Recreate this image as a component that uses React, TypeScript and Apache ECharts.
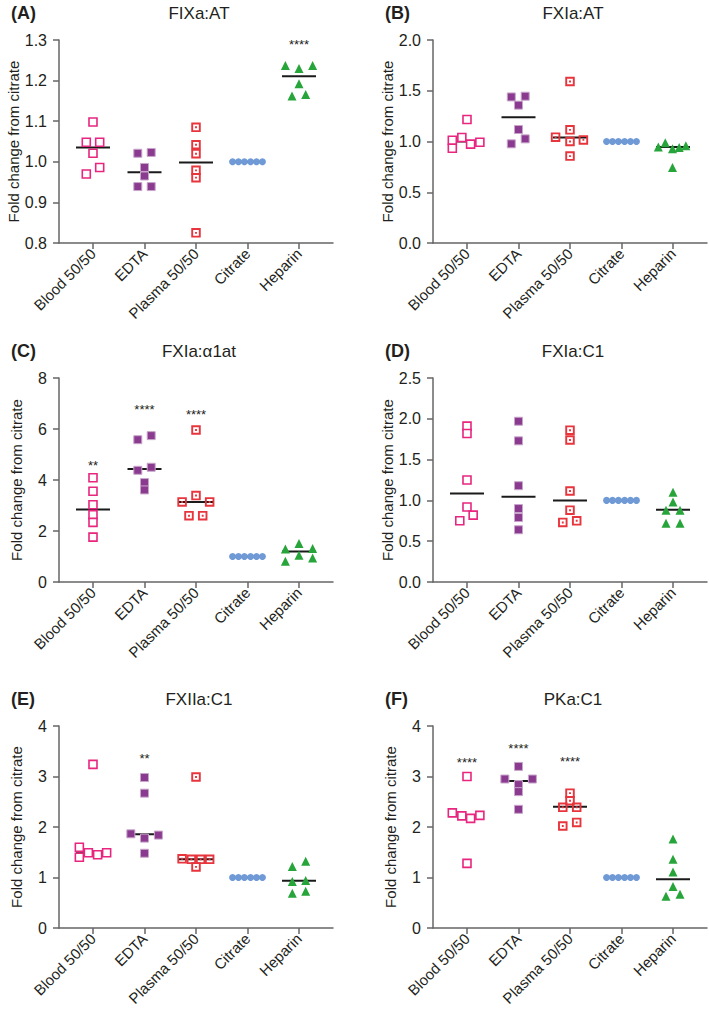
import React, { useEffect, useRef } from "react";
import * as echarts from "echarts";

const CATS = ["Blood 50/50", "EDTA", "Plasma 50/50", "Citrate", "Heparin"];
const PANEL_TAGS = ["(A)", "(B)", "(C)", "(D)", "(E)", "(F)"];
const PANEL_TITLES = ["FIXa:AT", "FXIa:AT", "FXIa:\u03b11at", "FXIa:C1", "FXIIa:C1", "PKa:C1"];
const Y_MIN = [0.8, 0, 0, 0, 0, 0];
const Y_MAX = [1.3, 2.0, 8, 2.5, 4, 4];
const Y_STEP = [0.1, 0.5, 2, 0.5, 1, 1];
const Y_DEC = [1, 1, 0, 1, 0, 0];

// ---- Panel A: FIXa:AT ----
const A_blood = [1.098, 1.048, 1.048, 1.021, 0.97, 0.986];
const A_edta = [1.021, 1.023, 0.986, 0.965, 0.939, 0.939];
const A_plasma = [1.085, 1.042, 1.02, 0.979, 0.961, 0.825];
const A_citrate = [1, 1, 1, 1, 1, 1];
const A_heparin = [1.237, 1.23, 1.237, 1.192, 1.162, 1.166];
const A_medians = [1.035, 0.974, 0.998, 1.0, 1.211];
const A_stars = ["", "", "", "", "****"];
const A_starY = [0, 0, 0, 0, 1.296];

// ---- Panel B: FXIa:AT ----
const B_blood = [1.013, 0.934, 1.039, 1.217, 0.974, 0.993];
const B_edta = [1.439, 1.446, 1.358, 1.118, 0.977, 1.026];
const B_plasma = [1.591, 1.043, 1.115, 1.0, 1.016, 0.856];
const B_citrate = [1, 1, 1, 1, 1, 1];
const B_heparin = [0.947, 0.987, 0.928, 0.941, 0.957, 0.744];
const B_medians = [1.0, 1.24, 1.04, 1.0, 0.947];
const B_stars = ["", "", "", "", ""];
const B_starY = [0, 0, 0, 0, 0];

// ---- Panel C: FXIa:a1at ----
const C_blood = [4.09, 3.56, 3.03, 2.64, 2.34, 1.76];
const C_edta = [5.58, 5.74, 4.38, 4.5, 3.9, 3.61];
const C_plasma = [5.96, 3.14, 3.39, 3.14, 2.6, 2.6];
const C_citrate = [1, 1, 1, 1, 1, 1];
const C_heparin = [1.29, 1.51, 1.31, 1.05, 0.81, 0.94];
const C_medians = [2.84, 4.43, 3.14, 1.0, 1.2];
const C_stars = ["**", "****", "****", "", ""];
const C_starY = [4.69, 6.89, 6.68, 0, 0];

// ---- Panel D: FXIa:C1 ----
const D_blood = [1.91, 1.82, 1.25, 0.92, 0.82, 0.75];
const D_edta = [1.97, 1.73, 1.18, 0.9, 0.79, 0.64];
const D_plasma = [1.86, 1.74, 1.115, 0.88, 0.73, 0.75];
const D_citrate = [1, 1, 1, 1, 1, 1];
const D_heparin = [1.1, 0.98, 0.88, 0.88, 0.72, 0.72];
const D_medians = [1.086, 1.045, 1.0, 1.0, 0.885];
const D_stars = ["", "", "", "", ""];
const D_starY = [0, 0, 0, 0, 0];

// ---- Panel E: FXIIa:C1 ----
const E_blood = [3.24, 1.6, 1.4, 1.49, 1.45, 1.49];
const E_edta = [2.98, 2.67, 1.865, 1.84, 1.78, 1.48];
const E_plasma = [2.99, 1.37, 1.36, 1.36, 1.36, 1.21];
const E_citrate = [1, 1, 1, 1, 1, 1];
const E_heparin = [1.22, 1.32, 0.92, 0.94, 0.69, 0.73];
const E_medians = [1.48, 1.855, 1.36, 1.0, 0.935];
const E_stars = ["", "**", "", "", ""];
const E_starY = [0, 3.41, 0, 0, 0];

// ---- Panel F: PKa:C1 ----
const F_blood = [3.0, 2.28, 2.22, 2.17, 2.23, 1.28];
const F_edta = [3.2, 2.95, 2.95, 2.84, 2.7, 2.35];
const F_plasma = [2.67, 2.52, 2.39, 2.39, 2.02, 2.09];
const F_citrate = [1, 1, 1, 1, 1, 1];
const F_heparin = [1.76, 1.36, 1.11, 0.82, 0.63, 0.67];
const F_medians = [2.23, 2.91, 2.4, 1.0, 0.965];
const F_stars = ["****", "****", "****", "", ""];
const F_starY = [3.34, 3.61, 3.35, 0, 0];

// horizontal jitter of each point inside its column (category units)
const A_jit = [
  [0, -0.13, 0.13, 0, -0.13, 0.13],
  [-0.13, 0.13, 0, 0, -0.13, 0.13],
  [0, 0, 0, 0, 0, 0],
  [-0.29, -0.175, -0.06, 0.06, 0.175, 0.29],
  [-0.265, 0, 0.265, 0, -0.136, 0.13],
];
const B_jit = [
  [-0.285, -0.285, -0.1, 0, 0.07, 0.25],
  [-0.14, 0.13, 0, 0, -0.14, 0.13],
  [0, -0.28, 0, 0, 0.26, 0],
  [-0.29, -0.175, -0.06, 0.06, 0.175, 0.29],
  [-0.285, -0.15, -0.01, 0.12, 0.25, -0.01],
];
const C_jit = [
  [0, 0, 0, 0, 0, 0],
  [-0.13, 0.13, -0.13, 0.13, 0, 0],
  [0, -0.27, 0, 0.265, -0.136, 0.13],
  [-0.29, -0.175, -0.06, 0.06, 0.175, 0.29],
  [-0.265, 0, 0.265, 0, -0.265, 0.265],
];
const D_jit = [
  [0, 0, 0, 0, 0.12, -0.14],
  [0, 0, 0, 0, 0, 0],
  [0, 0, 0, 0, -0.14, 0.13],
  [-0.29, -0.175, -0.06, 0.06, 0.175, 0.29],
  [0, 0, -0.136, 0.136, -0.136, 0.136],
];
const E_jit = [
  [0, -0.265, -0.265, -0.09, 0.09, 0.265],
  [0, 0, -0.265, 0.27, 0, 0],
  [0, -0.27, -0.09, 0.09, 0.265, 0],
  [-0.29, -0.175, -0.06, 0.06, 0.175, 0.29],
  [-0.13, 0.13, -0.13, 0.13, -0.13, 0.13],
];
const F_jit = [
  [0, -0.285, -0.1, 0.07, 0.25, 0],
  [0, -0.265, 0.27, 0, 0, 0],
  [0, 0, -0.14, 0.13, -0.14, 0.13],
  [-0.29, -0.175, -0.06, 0.06, 0.175, 0.29],
  [0, 0, 0, 0, -0.136, 0.136],
];

const PANELS = [
  { vals: [A_blood, A_edta, A_plasma, A_citrate, A_heparin], jit: A_jit, med: A_medians, stars: A_stars, starY: A_starY },
  { vals: [B_blood, B_edta, B_plasma, B_citrate, B_heparin], jit: B_jit, med: B_medians, stars: B_stars, starY: B_starY },
  { vals: [C_blood, C_edta, C_plasma, C_citrate, C_heparin], jit: C_jit, med: C_medians, stars: C_stars, starY: C_starY },
  { vals: [D_blood, D_edta, D_plasma, D_citrate, D_heparin], jit: D_jit, med: D_medians, stars: D_stars, starY: D_starY },
  { vals: [E_blood, E_edta, E_plasma, E_citrate, E_heparin], jit: E_jit, med: E_medians, stars: E_stars, starY: E_starY },
  { vals: [F_blood, F_edta, F_plasma, F_citrate, F_heparin], jit: F_jit, med: F_medians, stars: F_stars, starY: F_starY },
];

const FONT = "'Liberation Sans', Arial, Helvetica, sans-serif";
const TXT = "#231f20";
const AX = "#666666";

const GRIDS = [
  { left: 59, top: 40, width: 274, height: 203 },
  { left: 433, top: 40, width: 274, height: 203 },
  { left: 59, top: 378, width: 274, height: 204 },
  { left: 433, top: 378, width: 274, height: 204 },
  { left: 59, top: 726, width: 274, height: 202 },
  { left: 433, top: 726, width: 274, height: 202 },
];

const PLASMA_SYMBOL = "path://M0,0H10V10H0Z M2,2V8H8V2Z M4,4H6V6H4Z";

const SYMBOLS = [
  { symbol: "rect", symbolSize: 8, itemStyle: { color: "#ffffff", borderColor: "#e8257f", borderWidth: 1.6 } },
  { symbol: "rect", symbolSize: 8, itemStyle: { color: "#8b3b8f", borderColor: "#c8a6cb", borderWidth: 1 } },
  { symbol: PLASMA_SYMBOL, symbolSize: 9.5, itemStyle: { color: "#e8343c" } },
  { symbol: "circle", symbolSize: 7, itemStyle: { color: "#6f9ad6" } },
  { symbol: "triangle", symbolSize: 9, itemStyle: { color: "#27a53a" } },
];

function buildOption() {
  const xAxis: any[] = [];
  const yAxis: any[] = [];
  const series: any[] = [];
  const graphic: any[] = [];

  GRIDS.forEach((g, k) => {
    xAxis.push({
      type: "value",
      gridIndex: k,
      min: -0.66,
      max: 4.66,
      splitLine: { show: false },
      axisLine: { show: true, onZero: false, lineStyle: { color: AX, width: 1.5 } },
      axisTick: { show: true, customValues: [0, 1, 2, 3, 4], length: 6, lineStyle: { color: AX, width: 1.5 } },
      axisLabel: {
        customValues: [0, 1, 2, 3, 4],
        formatter: (v: number) => CATS[Math.round(v)] ?? "",
        rotate: 45,
        fontSize: 15,
        color: TXT,
        fontFamily: FONT,
        margin: 8,
      },
    });
    yAxis.push({
      type: "value",
      gridIndex: k,
      min: Y_MIN[k],
      max: Y_MAX[k],
      interval: Y_STEP[k],
      splitLine: { show: false },
      axisLine: { show: true, onZero: false, lineStyle: { color: AX, width: 1.5 } },
      axisTick: { show: true, length: 6, lineStyle: { color: AX, width: 1.5 } },
      axisLabel: {
        formatter: (v: number) => v.toFixed(Y_DEC[k]),
        fontSize: 16,
        color: TXT,
        fontFamily: FONT,
        margin: 12,
      },
      name: "Fold change from citrate",
      nameLocation: "middle",
      nameGap: 35,
      nameTextStyle: { fontSize: 15, color: TXT, fontFamily: FONT },
    });

    const p = PANELS[k];
    // median lines
    series.push({
      type: "custom",
      xAxisIndex: k,
      yAxisIndex: k,
      z: 1,
      data: p.med.map((m, i) => [i, m]),
      renderItem: (params: any, api: any) => {
        const x = api.value(0);
        const y = api.value(1);
        const a = api.coord([x - 0.33, y]);
        const b = api.coord([x + 0.33, y]);
        return {
          type: "line",
          shape: { x1: a[0], y1: a[1], x2: b[0], y2: b[1] },
          style: { stroke: "#1a1a1a", lineWidth: 2 },
        };
      },
    });
    // points
    p.vals.forEach((vals, gi) => {
      series.push({
        type: "scatter",
        xAxisIndex: k,
        yAxisIndex: k,
        z: 3,
        symbol: SYMBOLS[gi].symbol,
        symbolSize: SYMBOLS[gi].symbolSize,
        itemStyle: { ...SYMBOLS[gi].itemStyle, opacity: 1 },
        data: vals.map((v, i) => [gi + p.jit[gi][i], v]),
      });
    });
    // significance stars
    const starData: any[] = [];
    p.stars.forEach((s, i) => {
      if (s) starData.push([i, p.starY[i], s]);
    });
    if (starData.length) {
      series.push({
        type: "custom",
        xAxisIndex: k,
        yAxisIndex: k,
        z: 4,
        data: starData,
        renderItem: (params: any, api: any) => {
          const item = starData[params.dataIndex];
          const c = api.coord([item[0], item[1]]);
          return {
            type: "text",
            x: c[0],
            y: c[1] + 3,
            style: {
              text: item[2],
              fill: TXT,
              fontSize: 13,
              fontFamily: FONT,
              align: "center",
              verticalAlign: "middle",
            },
          };
        },
      });
    }

    // panel tag and title
    graphic.push({
      type: "text",
      x: g.left - 48,
      y: g.top - 27,
      style: {
        text: PANEL_TAGS[k],
        fontSize: 18,
        fontWeight: "bold",
        fill: TXT,
        fontFamily: FONT,
        align: "left",
        verticalAlign: "middle",
      },
    });
    graphic.push({
      type: "text",
      x: g.left + g.width / 2 + 3,
      y: g.top - 27,
      style: {
        text: PANEL_TITLES[k],
        fontSize: 17,
        fill: TXT,
        fontFamily: FONT,
        align: "center",
        verticalAlign: "middle",
      },
    });
  });

  return {
    animation: false,
    backgroundColor: "#ffffff",
    textStyle: { fontFamily: FONT },
    grid: GRIDS.map((g) => ({ ...g, containLabel: false })),
    xAxis,
    yAxis,
    series,
    graphic,
  };
}

export default function App() {
  const ref = useRef<HTMLDivElement>(null);
  useEffect(() => {
    if (!ref.current) return;
    const chart = echarts.init(ref.current, undefined, { renderer: "svg" });
    chart.setOption(buildOption() as any);
    return () => chart.dispose();
  }, []);
  return (
    <div
      ref={ref}
      style={{ position: "absolute", left: 0, top: 0, width: 709, height: 1012, background: "#fff" }}
    />
  );
}
